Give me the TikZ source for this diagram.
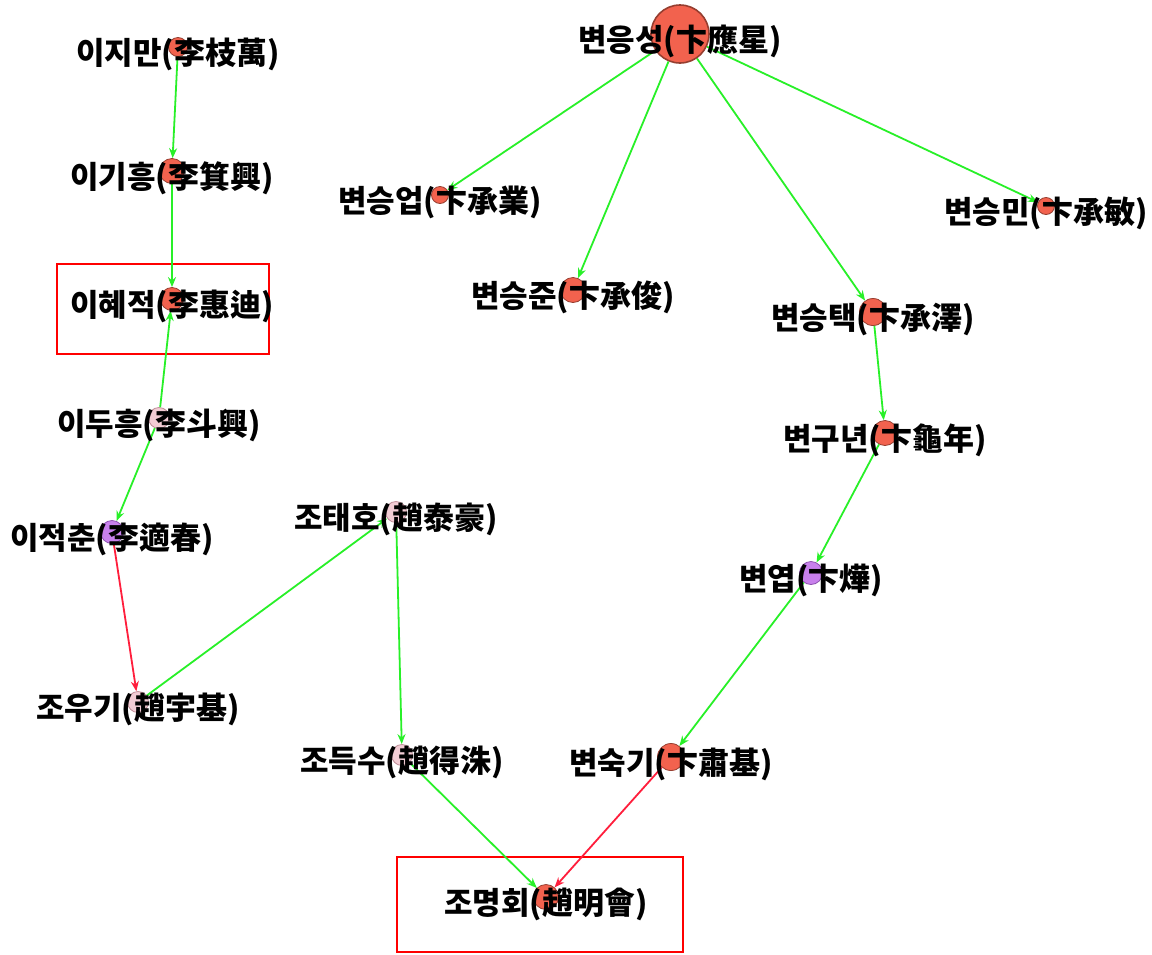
\documentclass[tikz,border=0pt]{standalone}
\usepackage{fontspec}
\newfontfamily\krfont{Noto Sans CJK KR}
\usetikzlibrary{arrows.meta}
\definecolor{tomatofill}{RGB}{242,98,78}
\definecolor{tomatoline}{RGB}{150,62,48}
\definecolor{pinkfill}{RGB}{242,204,212}
\definecolor{pinkline}{RGB}{190,140,150}
\definecolor{purplefill}{RGB}{200,128,236}
\definecolor{purpleline}{RGB}{140,80,175}
\definecolor{edgegreen}{RGB}{40,240,40}
\definecolor{edgered}{RGB}{255,30,60}
\definecolor{boxred}{RGB}{255,0,0}
\tikzset{
  person/.style={circle, inner sep=0pt, minimum size=#1, line width=0.8pt},
  redn/.style={fill=tomatofill, draw=tomatoline},
  pinkn/.style={fill=pinkfill, draw=pinkline},
  purpn/.style={fill=purplefill, draw=purpleline},
  lbl/.style={font=\krfont\bfseries\fontsize{31}{32}\selectfont, inner sep=0pt, anchor=center, yshift=-7pt},
  garrow/.style={draw=edgegreen, line width=1.8pt, -{Stealth[length=10pt,width=8pt]}},
  rarrow/.style={draw=edgered, line width=1.8pt, -{Stealth[length=10pt,width=8pt]}},
  hibox/.style={draw=boxred, line width=2pt}
}
\begin{document}
\begin{tikzpicture}[x=1pt,y=-1pt]
\useasboundingbox[fill=white] (0,0) rectangle (1152,954);
% highlight boxes
\draw[hibox] (57,264) rectangle (269,354);
\draw[hibox] (397,857) rectangle (683,952);
% circles
\node[person=19pt, redn] (A) at (178,47) {};
\node[person=25pt, redn] (B) at (172,171) {};
\node[person=23pt, redn] (C) at (172,299) {};
\node[person=21pt, pinkn] (D) at (159,418) {};
\node[person=23pt, purpn] (E) at (112,532) {};
\node[person=21pt, pinkn] (F) at (138,702) {};
\node[person=21pt, pinkn] (G) at (396,512) {};
\node[person=21pt, pinkn] (H) at (402,755) {};
\node[person=25pt, redn] (I) at (546,897) {};
\node[person=27pt, redn] (J) at (671,757) {};
\node[person=23pt, purpn] (K) at (811,573) {};
\node[person=25pt, redn] (L) at (885,433) {};
\node[person=27pt, redn] (M) at (873,312) {};
\node[person=58pt, redn, line width=1.6pt] (N) at (680,34) {};
\node[person=17pt, redn] (O) at (440,195) {};
\node[person=25pt, redn] (P) at (573,290) {};
\node[person=17pt, redn] (Q) at (1046,206) {};
% edges
\draw[garrow] (A) -- (B);
\draw[garrow] (B) -- (C);
\draw[garrow] (D) -- (C);
\draw[garrow] (D) -- (E);
\draw[rarrow] (E) -- (F);
\draw[garrow] (F) -- (G);
\draw[garrow] (G) -- (H);
\draw[garrow] (H) -- (I);
\draw[rarrow] (J) -- (I);
\draw[garrow] (K) -- (J);
\draw[garrow] (L) -- (K);
\draw[garrow] (M) -- (L);
\draw[garrow] (N) -- (O);
\draw[garrow] (N) -- (P);
\draw[garrow] (N) -- (M);
\draw[garrow] (N) -- (Q);
% labels
\node[lbl] (tA) at (A) {이지만(李枝萬)};
\node[lbl] (tB) at (B) {이기흥(李箕興)};
\node[lbl] (tC) at (C) {이혜적(李惠迪)};
\node[lbl] (tD) at (D) {이두흥(李斗興)};
\node[lbl] (tE) at (E) {이적춘(李適春)};
\node[lbl] (tF) at (F) {조우기(趙宇基)};
\node[lbl] (tG) at (G) {조태호(趙泰豪)};
\node[lbl] (tH) at (H) {조득수(趙得洙)};
\node[lbl] (tI) at (I) {조명회(趙明會)};
\node[lbl] (tJ) at (J) {변숙기(卞肅基)};
\node[lbl] (tK) at (K) {변엽(卞燁)};
\node[lbl] (tL) at (L) {변구년(卞龜年)};
\node[lbl] (tM) at (M) {변승택(卞承澤)};
\node[lbl] (tN) at (N) {변응성(卞應星)};
\node[lbl] (tO) at (O) {변승업(卞承業)};
\node[lbl] (tP) at (P) {변승준(卞承俊)};
\node[lbl] (tQ) at (Q) {변승민(卞承敏)};
\end{tikzpicture}
\end{document}
